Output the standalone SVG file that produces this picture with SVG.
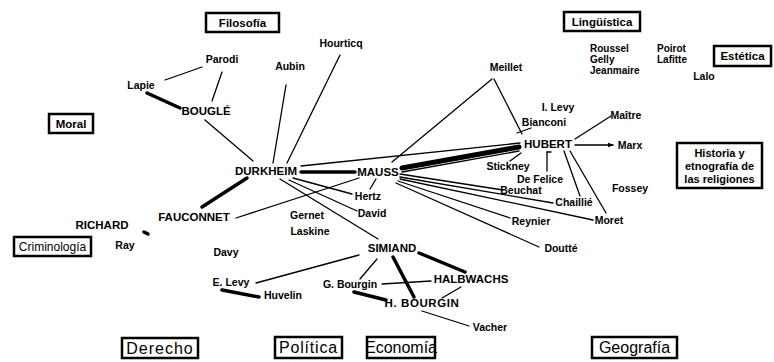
<svg xmlns="http://www.w3.org/2000/svg" width="774" height="362" viewBox="0 0 774 362">
<defs>
<style>
text{font-family:"Liberation Sans",Arial,sans-serif;fill:#000}
.n{font-size:10.5px;font-weight:bold;text-anchor:middle}
.nl{font-size:10px;font-weight:bold}
.c{font-size:11.5px;font-weight:bold;text-anchor:middle}
.bx rect{fill:#fff;stroke:#000;stroke-width:2.5}
.bt{font-size:11.5px;font-weight:bold;text-anchor:middle}
.bh{font-size:11px;font-weight:bold;text-anchor:middle}
.br{font-size:12px;text-anchor:middle}
.bb{font-size:16px;text-anchor:middle}
.e line{stroke:#000;stroke-width:1.3;stroke-linecap:round}
.e line.t{stroke-width:3.5}
.e line.tt{stroke-width:5}
</style>
<marker id="ar" viewBox="0 0 6 6" refX="5" refY="3" markerWidth="5" markerHeight="5" orient="auto"><path d="M0,0.8 L6,3 L0,5.2z" fill="#000"/></marker>
</defs>
<rect width="774" height="362" fill="#fff"/>
<g id="connectors" class="e">
<line x1="165" y1="80" x2="202" y2="67"/>
<line x1="222" y1="72" x2="212" y2="101"/>
<line class="t" x1="147" y1="93" x2="180" y2="108"/>
<line x1="205" y1="120" x2="253" y2="161"/>
<line x1="286" y1="85" x2="273" y2="163"/>
<line x1="340" y1="55" x2="287" y2="163"/>
<line x1="492" y1="79" x2="392" y2="162"/>
<line x1="494" y1="79" x2="522" y2="134"/>
<line x1="517" y1="133" x2="531" y2="128"/>
<line x1="301" y1="166" x2="520" y2="143"/>
<line class="t" x1="301" y1="172" x2="355" y2="172"/>
<line class="tt" x1="402" y1="168" x2="519" y2="147"/>
<line x1="402" y1="172" x2="519" y2="151"/>
<line x1="521" y1="153" x2="510" y2="161"/>
<line x1="575" y1="139" x2="611" y2="116"/>
<line x1="575" y1="145" x2="613" y2="145" marker-end="url(#ar)"/>
<line x1="547" y1="152" x2="547" y2="171"/>
<line x1="547" y1="152" x2="551" y2="152"/>
<line x1="564" y1="151" x2="580" y2="196"/>
<line x1="570" y1="151" x2="606" y2="213"/>
<line x1="400" y1="174" x2="503" y2="190"/>
<line x1="400" y1="177" x2="553" y2="203"/>
<line x1="400" y1="179" x2="593" y2="220"/>
<line x1="398" y1="181" x2="510" y2="218"/>
<line x1="396" y1="183" x2="539" y2="247"/>
<line x1="376" y1="179" x2="370" y2="189"/>
<line x1="293" y1="178" x2="352" y2="194"/>
<line x1="289" y1="180" x2="357" y2="211"/>
<line x1="280" y1="179" x2="378" y2="239"/>
<line x1="236" y1="218" x2="359" y2="178"/>
<line class="t" x1="202" y1="207" x2="247" y2="178"/>
<line class="t" x1="144" y1="232" x2="148" y2="234"/>
<line x1="359" y1="255" x2="256" y2="283"/>
<line class="t" x1="222" y1="290" x2="259" y2="297"/>
<line x1="377" y1="259" x2="360" y2="279"/>
<line class="t" x1="393" y1="257" x2="414" y2="297"/>
<line class="t" x1="419" y1="253" x2="465" y2="272"/>
<line x1="382" y1="284" x2="431" y2="281"/>
<line class="t" x1="354" y1="292" x2="386" y2="300"/>
<line x1="461" y1="287" x2="442" y2="298"/>
<line x1="422" y1="311" x2="469" y2="326"/>
</g>
<g id="box-filosofia" class="bx"><rect x="206" y="13" width="73" height="19"/><text class="bt" x="242.5" y="27">Filosofía</text></g>
<g id="box-linguistica" class="bx"><rect x="564" y="12" width="76" height="19"/><text class="bt" x="602" y="26">Lingüística</text></g>
<g id="box-estetica" class="bx"><rect x="714" y="46" width="57" height="20"/><text class="bt" x="742.5" y="60">Estética</text></g>
<g id="box-moral" class="bx"><rect x="49" y="114" width="44" height="19"/><text class="bt" x="71" y="128">Moral</text></g>
<g id="box-historia" class="bx"><rect x="677" y="143" width="85" height="45"/><text class="bh" x="719.5" y="157">Historia y</text><text class="bh" x="719.5" y="170">etnografía de</text><text class="bh" x="719.5" y="183">las religiones</text></g>
<g id="box-criminologia" class="bx"><rect x="14" y="237" width="77" height="19"/><text class="br" x="52.5" y="251">Criminología</text></g>
<g id="box-derecho" class="bx"><rect x="122" y="338" width="76" height="20"/><text class="bb" x="160" y="354" letter-spacing="1">Derecho</text></g>
<g id="box-politica" class="bx"><rect x="275" y="337" width="67" height="21"/><text class="bb" x="308.5" y="353" letter-spacing="0.8">Política</text></g>
<g id="box-economia" class="bx"><rect x="367" y="337" width="68" height="21"/><text class="bb" x="401" y="353" font-size="14px">Economía</text></g>
<g id="box-geografia" class="bx"><rect x="592" y="337" width="85" height="21"/><text class="bb" x="634.5" y="353">Geografía</text></g>
<g id="n-parodi"><text class="n" x="222" y="63">Parodi</text></g>
<g id="n-lapie"><text class="n" x="141" y="89">Lapie</text></g>
<g id="n-bougle"><text class="c" x="206" y="115">BOUGLÉ</text></g>
<g id="n-aubin"><text class="n" x="290" y="70">Aubin</text></g>
<g id="n-hourticq"><text class="n" x="341" y="47">Hourticq</text></g>
<g id="n-meillet"><text class="n" x="506" y="71">Meillet</text></g>
<g id="n-roussel"><text class="nl" x="590" y="52">Roussel</text></g>
<g id="n-gelly"><text class="nl" x="590" y="63">Gelly</text></g>
<g id="n-jeanmaire"><text class="nl" x="590" y="74">Jeanmaire</text></g>
<g id="n-poirot"><text class="nl" x="657" y="52">Poirot</text></g>
<g id="n-lafitte"><text class="nl" x="657" y="63">Lafitte</text></g>
<g id="n-lalo"><text class="n" x="704" y="80">Lalo</text></g>
<g id="n-ilevy"><text class="n" x="558" y="111">I. Levy</text></g>
<g id="n-bianconi"><text class="n" x="544" y="126">Bianconi</text></g>
<g id="n-maitre"><text class="n" x="626" y="119">Maître</text></g>
<g id="n-hubert"><text class="c" x="548" y="148">HUBERT</text></g>
<g id="n-marx"><text class="n" x="630" y="149">Marx</text></g>
<g id="n-stickney"><text class="n" x="508" y="170">Stickney</text></g>
<g id="n-defelice"><text class="n" x="540" y="183">De Felice</text></g>
<g id="n-beuchat"><text class="n" x="521" y="194">Beuchat</text></g>
<g id="n-fossey"><text class="n" x="630" y="192">Fossey</text></g>
<g id="n-chaillie"><text class="n" x="574" y="206">Chaillié</text></g>
<g id="n-moret"><text class="n" x="609" y="224">Moret</text></g>
<g id="n-reynier"><text class="n" x="531" y="225">Reynier</text></g>
<g id="n-doutte"><text class="n" x="561" y="252">Doutté</text></g>
<g id="n-durkheim"><text class="c" x="266" y="175">DURKHEIM</text></g>
<g id="n-mauss"><text class="c" x="378" y="176">MAUSS</text></g>
<g id="n-hertz"><text class="n" x="368" y="200">Hertz</text></g>
<g id="n-david"><text class="n" x="372" y="217">David</text></g>
<g id="n-gernet"><text class="n" x="307" y="219">Gernet</text></g>
<g id="n-laskine"><text class="n" x="310" y="235">Laskine</text></g>
<g id="n-simiand"><text class="c" x="392" y="252">SIMIAND</text></g>
<g id="n-fauconnet"><text class="c" x="194" y="221">FAUCONNET</text></g>
<g id="n-richard"><text class="c" x="102" y="229">RICHARD</text></g>
<g id="n-ray"><text class="n" x="125" y="249">Ray</text></g>
<g id="n-davy"><text class="n" x="226" y="256">Davy</text></g>
<g id="n-elevy"><text class="n" x="231" y="286">E. Levy</text></g>
<g id="n-huvelin"><text class="n" x="283" y="299">Huvelin</text></g>
<g id="n-gbourgin"><text class="n" x="350" y="288">G. Bourgin</text></g>
<g id="n-halbwachs"><text class="c" x="471" y="283">HALBWACHS</text></g>
<g id="n-hbourgin"><text class="c" x="422" y="307" letter-spacing="0.6">H. BOURGIN</text></g>
<g id="n-vacher"><text class="n" x="490" y="331">Vacher</text></g>
</svg>
